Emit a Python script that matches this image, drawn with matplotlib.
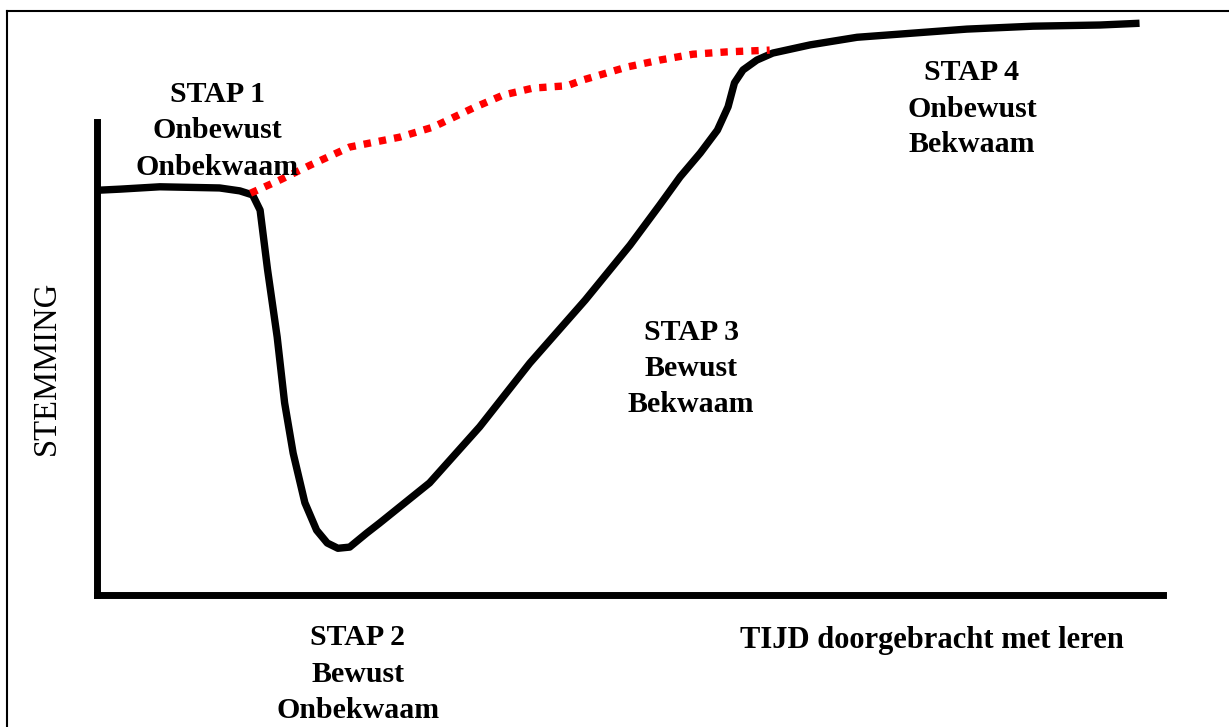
import matplotlib
matplotlib.use('Agg')
import matplotlib.pyplot as plt
from matplotlib.lines import Line2D

W, H = 1229, 727

# stemming (mood) over time, both in 0..100 units of the drawn axes
tijd = [0, 2.2, 5.9, 11.5, 13.4, 14.6, 15.3, 16.0, 16.9, 17.6, 18.4, 19.5, 20.6,
        21.6, 22.6, 23.7, 25.3, 26.5, 31.2, 35.9, 40.6, 45.8, 50.0, 52.8, 54.7,
        56.6, 58.2, 59.2, 59.8, 60.6, 61.9, 63.4, 66.9, 71.3, 81.6, 87.8, 94.1, 97.8]
stemming = [69.3, 69.5, 69.9, 69.7, 69.2, 68.5, 65.9, 55.7, 44.2, 32.9, 24.3, 15.8, 11.1,
            8.9, 8.0, 8.2, 10.6, 12.3, 19.2, 28.8, 39.7, 50.5, 59.9, 66.8, 71.6,
            75.7, 79.6, 83.6, 87.7, 89.9, 91.6, 92.8, 94.2, 95.5, 96.9, 97.4, 97.6, 97.9]

# ideal path (red dotted)
tijd_ideaal = [14.4, 17.2, 20.0, 23.7, 28.4, 31.5, 35.3, 38.1, 40.9, 44.1, 45.6,
               49.7, 52.8, 55.9, 59.1, 63.1]
stemming_ideaal = [68.8, 71.1, 73.6, 76.7, 78.4, 80.1, 83.4, 85.6, 86.8, 87.2, 88.2,
                   90.4, 91.6, 92.6, 93.0, 93.3]

stappen = [
    (['STAP 1', 'Onbewust', 'Onbekwaam'], 217, [102, 138, 175]),
    (['STAP 2', 'Bewust', 'Onbekwaam'], 358, [645, 682, 718]),
    (['STAP 3', 'Bewust', 'Bekwaam'], 691, [340, 376, 412]),
    (['STAP 4', 'Onbewust', 'Bekwaam'], 972, [80, 117, 152]),
]

fig = plt.figure(figsize=(W / 100, H / 100), dpi=100)
fig.patch.set_facecolor('white')

def fx(px):
    return px / W

def fy(py):
    return 1 - py / H

ax = fig.add_axes([fx(97), fy(595), fx(1163) - fx(97), fy(11) - fy(595)])
ax.set_xlim(0, 100)
ax.set_ylim(0, 100)
ax.patch.set_visible(False)
ax.set_xticks([])
ax.set_yticks([])
for s in ['top', 'right']:
    ax.spines[s].set_visible(False)
for s in ['left', 'bottom']:
    ax.spines[s].set_linewidth(5)
ax.spines['left'].set_bounds(0, 81)

ax.plot(tijd, stemming, color='black', lw=5.3, solid_joinstyle='round',
        solid_capstyle='butt', clip_on=False)
ax.plot(tijd_ideaal, stemming_ideaal, color='#ff0000', lw=5.3,
        linestyle=(0, (1, 1.1)), dash_capstyle='butt', clip_on=False)

font = dict(family='Liberation Serif', fontweight='bold', fontsize=21.5)
for regels, cx, basis in stappen:
    for regel, by in zip(regels, basis):
        fig.text(fx(cx), fy(by), regel, ha='center', va='baseline', **font)

fig.text(fx(932), fy(648), 'TIJD doorgebracht met leren', ha='center',
         va='baseline', family='Liberation Serif', fontweight='bold', fontsize=22)
fig.text(fx(47), fy(368), 'STEMMING', rotation=90, ha='center', va='center',
         family='Liberation Serif', fontsize=23.5)

# thin frame (top and left only)
fig.add_artist(Line2D([fx(7), 1], [fy(11), fy(11)], color='black', lw=1.5))
fig.add_artist(Line2D([fx(7), fx(7)], [0, fy(11)], color='black', lw=1.5))

fig.savefig('out.png', dpi=100, facecolor='white')
